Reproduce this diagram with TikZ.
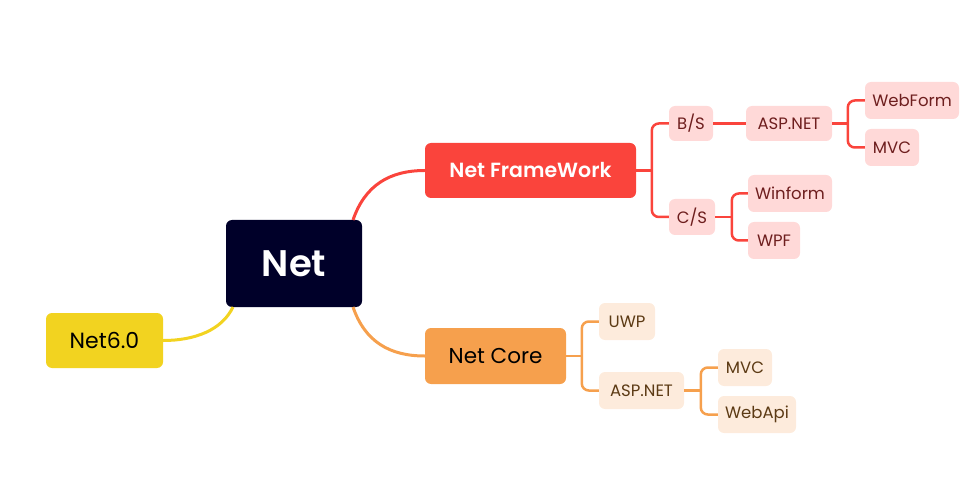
\documentclass[tikz,border=0pt]{standalone}
\usepackage{fontspec}
\setmainfont{Poppins}
\newfontfamily\semib{Poppins SemiBold}
\definecolor{navy}{HTML}{000029}
\definecolor{fwred}{HTML}{FA443C}
\definecolor{corange}{HTML}{F6A04D}
\definecolor{nyellow}{HTML}{F2D320}
\definecolor{pinkfill}{HTML}{FFD9D8}
\definecolor{pinktext}{HTML}{6E1E1E}
\definecolor{orfill}{HTML}{FDEBDC}
\definecolor{ortext}{HTML}{5C3A14}
\tikzset{
  box/.style={rectangle, rounded corners=6pt, inner sep=0pt, anchor=center},
  mainbox/.style={box, minimum height=55pt},
  pinkbox/.style={box, fill=pinkfill, text=pinktext, font=\fontsize{16.5}{19}\selectfont, minimum height=36pt},
  orbox/.style={box, fill=orfill, text=ortext, font=\fontsize{16.5}{19}\selectfont, minimum height=37pt},
  redline/.style={draw=fwred, line width=2.5pt},
  orline/.style={draw=corange, line width=2.5pt},
}
\begin{document}
\begin{tikzpicture}[x=1pt,y=-1pt]
\useasboundingbox (0,0) rectangle (976,502);
% main nodes
\node[box, fill=navy, text=white, minimum width=136pt, minimum height=87pt,
      font=\fontsize{37}{40}\selectfont\semib] (net) at (294,263.5) {Net};
\node[mainbox, fill=fwred, text=white, minimum width=211pt,
      font=\fontsize{20.5}{24}\selectfont\semib] (fw) at (530.5,170.5) {Net FrameWork};
\node[mainbox, fill=corange, text=black, minimum width=141pt, minimum height=56pt,
      font=\fontsize{21.5}{24}\selectfont] (core) at (495.5,356) {Net Core};
\node[mainbox, fill=nyellow, text=black, minimum width=117pt,
      font=\fontsize{22}{24}\selectfont] (n6) at (104.5,340.5) {Net6.0};
% framework subtree
\node[pinkbox, minimum width=44pt, minimum height=35pt] (bs) at (691,123.5) {B/S};
\node[pinkbox, minimum width=86pt, minimum height=35pt] (asp1) at (789,123.5) {ASP.NET};
\node[pinkbox, minimum width=94pt, minimum height=37pt] (wf) at (912,100.5) {WebForm};
\node[pinkbox, minimum width=54pt, minimum height=37pt] (mvc1) at (892,147.5) {MVC};
\node[pinkbox, minimum width=46pt] (cs) at (692,217) {C/S};
\node[pinkbox, minimum width=84pt, minimum height=37pt] (winf) at (790,193.5) {Winform};
\node[pinkbox, minimum width=52pt, minimum height=37pt] (wpf) at (774,240.5) {WPF};
% core subtree
\node[orbox, minimum width=56pt] (uwp) at (627,321.5) {UWP};
\node[orbox, minimum width=85pt] (asp2) at (641.5,390.5) {ASP.NET};
\node[orbox, minimum width=54pt] (mvc2) at (745,367.5) {MVC};
\node[orbox, minimum width=78pt] (wapi) at (757,414.5) {WebApi};
% junction coordinates
\coordinate (j1) at (652,170.5);
\coordinate (j2) at (849,123.5);
\coordinate (j3) at (732,217);
\coordinate (j4) at (582,356);
\coordinate (j5) at (701,390.5);
\coordinate (s1) at (353,220);
\coordinate (s2) at (353,307);
\coordinate (s3) at (233,307);
% main curves
\draw[draw=fwred, line width=3pt] (s1) .. controls (365,185) and (390,170.5) .. (fw.west);
\draw[draw=corange, line width=3pt] (s2) .. controls (365,342) and (390,356) .. (core.west);
\draw[draw=nyellow, line width=3pt] (s3) .. controls (222,330) and (195,340.5) .. (n6.east);
% framework connectors
\draw[redline] (fw.east) -- (j1);
\draw[redline, rounded corners=7pt] (bs.west) -| ([xshift=-17pt]cs.west) -- (cs.west);
\draw[redline] (bs.east) -- (asp1.west);
\draw[redline] (asp1.east) -- (j2);
\draw[redline, rounded corners=7pt] (wf.west) -| ([xshift=-17pt]mvc1.west) -- (mvc1.west);
\draw[redline] (cs.east) -- (j3);
\draw[redline, rounded corners=7pt] (winf.west) -| ([xshift=-16pt]wpf.west) -- (wpf.west);
% core connectors
\draw[orline] (core.east) -- (j4);
\draw[orline, rounded corners=7pt] (uwp.west) -| ([xshift=-17pt]asp2.west) -- (asp2.west);
\draw[orline] (asp2.east) -- (j5);
\draw[orline, rounded corners=7pt] (mvc2.west) -| ([xshift=-17pt]wapi.west) -- (wapi.west);
\end{tikzpicture}
\end{document}
